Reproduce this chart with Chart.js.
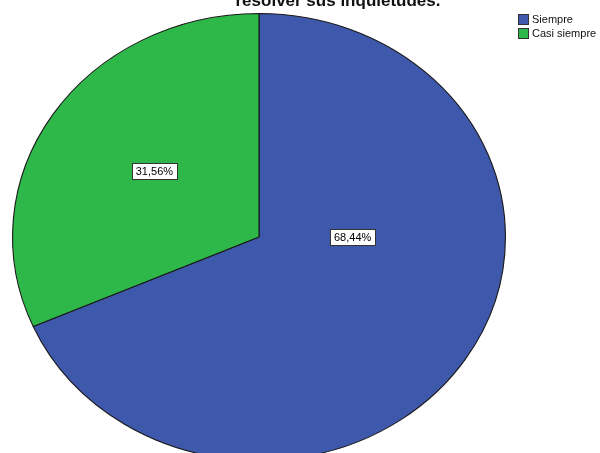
<!DOCTYPE html>
<html>
<head>
<meta charset="utf-8">
<script src="https://cdn.jsdelivr.net/npm/chart.js@4"></script>
<style>
  html, body { margin: 0; padding: 0; background: #fff; overflow: hidden; }
  #wrap { width: 600px; height: 453px; overflow: hidden; position: relative; }
  canvas { display: block; }
</style>
</head>
<body>
<div id="wrap"><canvas id="pie" width="600" height="480"></canvas></div>
<script>
const categories = ['Siempre', 'Casi siempre']
const percentages = [68.44, 31.56]
const colors = ['rgb(62, 88, 172)', 'rgb(46, 184, 74)']
const titleText = 'resolver sus inquietudes.'

// where SPSS put the value boxes: angle clockwise from top (deg), fraction of radius
const labelPlace = [{ angle: 90, frac: 0.38 }, { angle: 304.8, frac: 0.517 }]

const stretchX = 247 / 224

function fmt(v) {
    return v.toFixed(2).replace('.', ',') + '%'
}

const ellipsePlugin = {
    id: 'ellipse',
    beforeDatasetsDraw(chart) {
        const arc = chart.getDatasetMeta(0).data[0]
        const ctx = chart.ctx
        ctx.save()
        ctx.translate(arc.x, arc.y)
        ctx.scale(stretchX, 1)
        ctx.translate(-arc.x, -arc.y)
    },
    afterDatasetsDraw(chart) {
        chart.ctx.restore()
    }
}

const extrasPlugin = {
    id: 'extras',
    afterDraw(chart) {
        const ctx = chart.ctx
        const meta = chart.getDatasetMeta(0)

        // value boxes
        ctx.save()
        ctx.font = '11px "Liberation Sans", Arial, sans-serif'
        ctx.textAlign = 'center'
        ctx.textBaseline = 'middle'
        meta.data.forEach((arc, i) => {
            const p = labelPlace[i]
            const a = p.angle * Math.PI / 180
            const r = arc.outerRadius * p.frac
            const x = arc.x + Math.sin(a) * r * stretchX
            const y = arc.y - Math.cos(a) * r
            const txt = fmt(percentages[i])
            const w = ctx.measureText(txt).width + 8
            const h = 16
            ctx.fillStyle = '#fff'
            ctx.fillRect(Math.round(x - w / 2) + 0.5, Math.round(y - h / 2) + 0.5, Math.round(w), h)
            ctx.strokeStyle = '#333'
            ctx.lineWidth = 1
            ctx.strokeRect(Math.round(x - w / 2) + 0.5, Math.round(y - h / 2) + 0.5, Math.round(w), h)
            ctx.fillStyle = '#000'
            ctx.fillText(txt, x, y + 1)
        })

        // title (upper line lies above the picture)
        ctx.font = 'bold 17px "Liberation Sans", Arial, sans-serif'
        ctx.textBaseline = 'alphabetic'
        ctx.fillStyle = '#111'
        ctx.fillText(titleText, 338, 6)

        // legend
        ctx.font = '11px "Liberation Sans", Arial, sans-serif'
        ctx.textAlign = 'left'
        ctx.textBaseline = 'middle'
        categories.forEach((c, i) => {
            const y = 14 + i * 14
            ctx.fillStyle = colors[i]
            ctx.fillRect(518.5, y + 0.5, 10, 10)
            ctx.strokeStyle = '#333'
            ctx.strokeRect(518.5, y + 0.5, 10, 10)
            ctx.fillStyle = '#111'
            ctx.fillText(c, 532, y + 6)
        })
        ctx.restore()
    }
}

new Chart(document.querySelector('#pie').getContext('2d'), {
    type: 'pie',
    data: {
        labels: categories,
        datasets: [{
            data: percentages,
            backgroundColor: colors,
            borderColor: '#1a1a1a',
            borderWidth: 1
        }]
    },
    options: {
        responsive: false,
        animation: false,
        layout: { padding: { left: 35, right: 117, top: 13, bottom: 19 } },
        plugins: {
            legend: { display: false },
            title: { display: false },
            tooltip: { enabled: false }
        }
    },
    plugins: [ellipsePlugin, extrasPlugin]
})
</script>
</body>
</html>
